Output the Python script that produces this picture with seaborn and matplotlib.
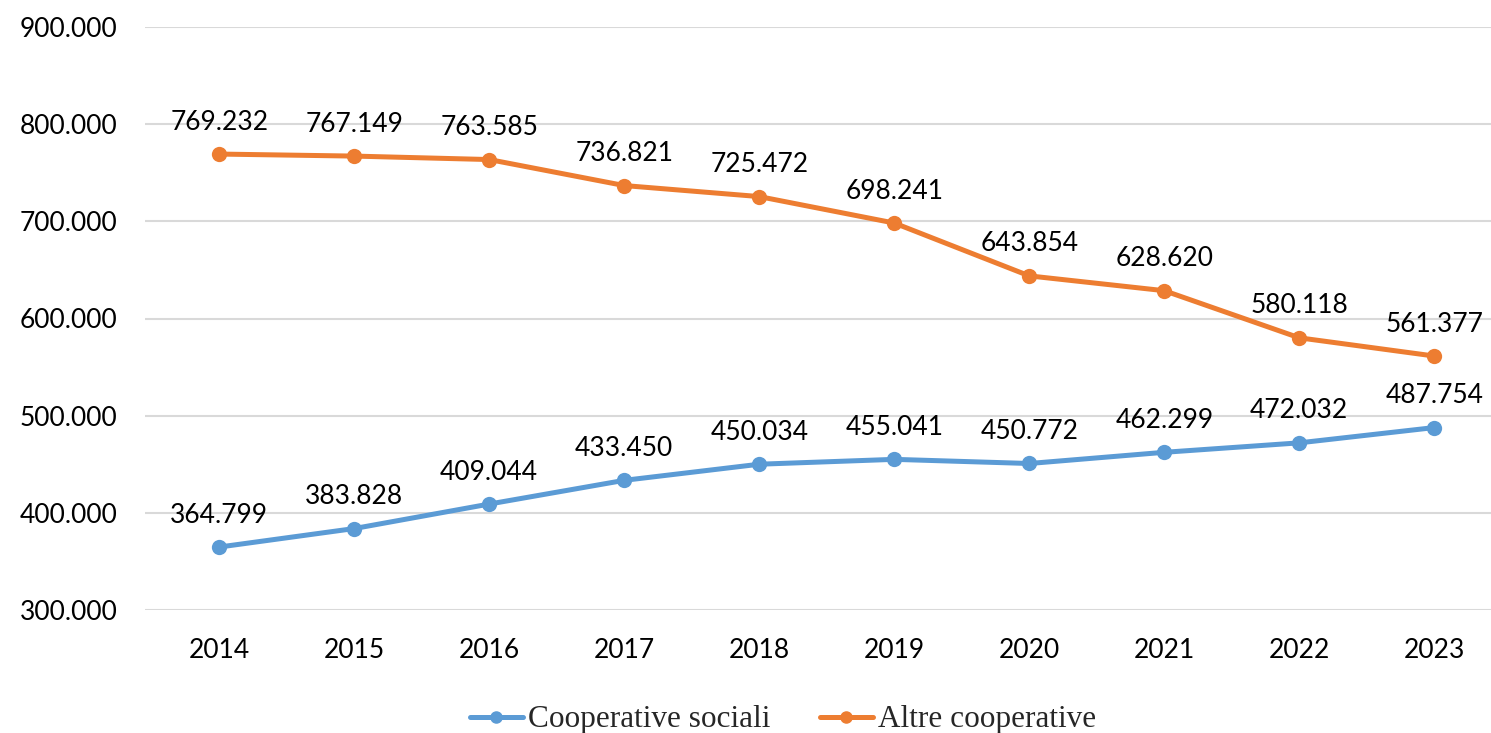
import matplotlib
matplotlib.use("Agg")
import matplotlib.pyplot as plt
import seaborn as sns
import pandas as pd
from matplotlib.lines import Line2D

years = ["2014", "2015", "2016", "2017", "2018", "2019", "2020", "2021", "2022", "2023"]
coop_sociali = [364799, 383828, 409044, 433450, 450034, 455041, 450772, 462299, 472032, 487754]
altre_coop = [769232, 767149, 763585, 736821, 725472, 698241, 643854, 628620, 580118, 561377]
series_names = ["Cooperative sociali", "Altre cooperative"]
yticks = [300000, 400000, 500000, 600000, 700000, 800000, 900000]

def fmt(v):
    return f"{v:,}".replace(",", ".")

df = pd.concat([
    pd.DataFrame({"x": range(len(years)), "val": coop_sociali, "serie": series_names[0]}),
    pd.DataFrame({"x": range(len(years)), "val": altre_coop, "serie": series_names[1]}),
])

sns.set_theme(style="white")
plt.rcParams["font.family"] = ["Lato", "DejaVu Sans"]

fig = plt.figure(figsize=(14.91, 7.33), dpi=100)
ax = fig.add_axes([145/1491, 1 - 610/733, 1 - 145/1491, (610 - 27)/733])

palette = {series_names[0]: "#5B9BD5", series_names[1]: "#ED7D31"}
sns.lineplot(data=df, x="x", y="val", hue="serie", palette=palette, ax=ax,
             marker="o", markersize=11, linewidth=3.6, markeredgewidth=0, legend=False)

for vals in (coop_sociali, altre_coop):
    for i, v in enumerate(vals):
        ax.annotate(fmt(v), (i, v), xytext=(0, 23), textcoords="offset points",
                    ha="center", va="center", fontsize=19, color="black")

ax.set_xlim(-0.55, 9.42)
ax.set_ylim(300000, 900000)
ax.set_yticks(yticks)
ax.set_yticklabels([fmt(t) for t in yticks])
ax.set_xticks(range(len(years)))
ax.set_xticklabels(years)
ax.tick_params(axis="both", length=0, labelsize=19, colors="black")
ax.tick_params(axis="x", pad=20)
for lab in ax.get_yticklabels():
    lab.set_horizontalalignment("left")
ax.tick_params(axis="y", pad=90)
ax.grid(axis="y", color="#D9D9D9", linewidth=1.5)
ax.set_axisbelow(True)
for s in ax.spines.values():
    s.set_visible(False)
ax.set_xlabel("")
ax.set_ylabel("")

handles = [Line2D([0], [0], color=palette[n], lw=3.6, marker="o", markersize=8) for n in series_names]
fig.legend(handles, series_names, loc="center", bbox_to_anchor=(0.525, 1 - 720/733),
           ncol=2, frameon=False, prop={"family": "Liberation Serif", "size": 22.5},
           handlelength=1.7, columnspacing=1.6, handletextpad=0.15)

fig.savefig("out.png", dpi=100)
